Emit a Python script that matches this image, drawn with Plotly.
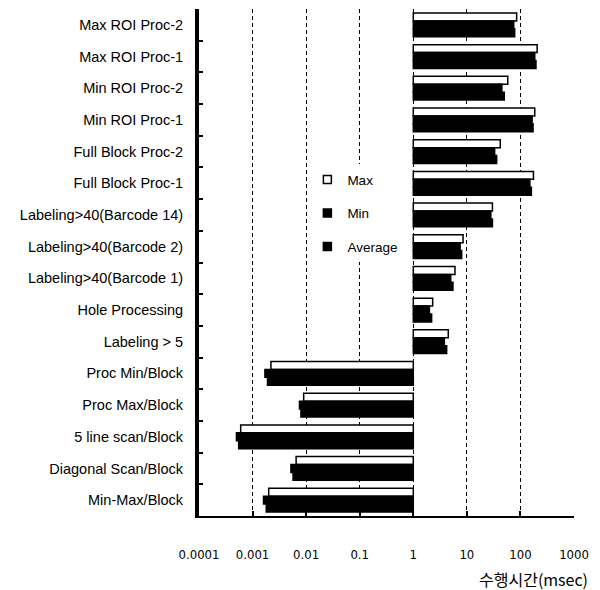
import plotly.graph_objects as go

categories = [
    "Max ROI Proc-2", "Max ROI Proc-1", "Min ROI Proc-2", "Min ROI Proc-1",
    "Full Block Proc-2", "Full Block Proc-1", "Labeling>40(Barcode 14)",
    "Labeling>40(Barcode 2)", "Labeling>40(Barcode 1)", "Hole Processing",
    "Labeling > 5", "Proc Min/Block", "Proc Max/Block", "5 line scan/Block",
    "Diagonal Scan/Block", "Min-Max/Block",
]
max_vals = [85, 205, 58, 185, 42, 175, 30, 8.5, 6, 2.3, 4.5,
            0.0022, 0.009, 0.0006, 0.0065, 0.002]
min_vals = [75, 185, 45, 165, 33, 150, 28, 7.5, 5, 2.0, 3.8,
            0.0017, 0.0075, 0.0005, 0.0052, 0.0016]
avg_vals = [78, 195, 50, 172, 36, 160, 30, 8.0, 5.5, 2.2, 4.2,
            0.0019, 0.008, 0.00055, 0.0057, 0.0018]
tick_vals = [0.0001, 0.001, 0.01, 0.1, 1, 10, 100, 1000]
tick_text = ["0.0001", "0.001", "0.01", "0.1", "1", "10", "100", "1000"]
series_names = ["Max", "Min", "Average"]
BASE = 1

fills = ["white", "black", "black"]
fig = go.Figure()
for name, vals, fill in zip(series_names, [max_vals, min_vals, avg_vals], fills):
    fig.add_trace(go.Bar(
        y=categories,
        x=[v - BASE for v in vals],
        base=[BASE] * len(vals),
        orientation="h",
        name=name,
        legendgroup=name,
        showlegend=False,
        marker=dict(color=fill, line=dict(color="black", width=1.5)),
    ))
# legend entries with small square keys (no data drawn)
for name, fill in zip(series_names, fills):
    fig.add_trace(go.Scatter(
        x=[None], y=[None], mode="markers", name=name, legendgroup=name,
        marker=dict(symbol="square", size=8, color=fill,
                    line=dict(color="black", width=1.5)),
    ))

fig.update_layout(
    width=592, height=582,
    margin=dict(l=191, r=26, t=1, b=74),
    paper_bgcolor="white", plot_bgcolor="white",
    barmode="group", bargap=0.25, bargroupgap=0,
    font=dict(family="Liberation Sans, Arial, sans-serif", color="black"),
    showlegend=True,
    legend=dict(x=0.289, y=0.694, xanchor="left", yanchor="top",
                bgcolor="white", font=dict(size=13.5),
                tracegroupgap=13, traceorder="grouped"),
    xaxis=dict(
        type="log", range=[-4, 3],
        tickvals=tick_vals, ticktext=tick_text,
        tickfont=dict(size=13, family="Liberation Sans Narrow, DejaVu Sans Condensed, Liberation Sans"),
        ticks="inside", ticklen=5, tickwidth=1.5, tickcolor="black",
        ticklabelstandoff=25,
        showgrid=True, gridcolor="black", gridwidth=1.3, griddash="4px,3px",
        showline=True, linecolor="black", linewidth=2,
    ),
    yaxis=dict(
        autorange=False, range=[len(categories) - 0.5, -0.5],
        tickfont=dict(size=14.5),
        ticks="inside", ticklen=4, tickwidth=1.5, tickcolor="black",
        tickson="boundaries", ticklabelstandoff=9,
        showgrid=False,
        showline=True, linecolor="black", linewidth=4,
    ),
    annotations=[dict(
        text="수행시간(msec)", xref="paper", yref="paper",
        x=1.0427, y=-0.1245, xanchor="right", yanchor="middle",
        showarrow=False,
        font=dict(size=16, family="Noto Sans CJK KR, sans-serif", color="black"),
    )],
)

fig.write_html("out.html")
